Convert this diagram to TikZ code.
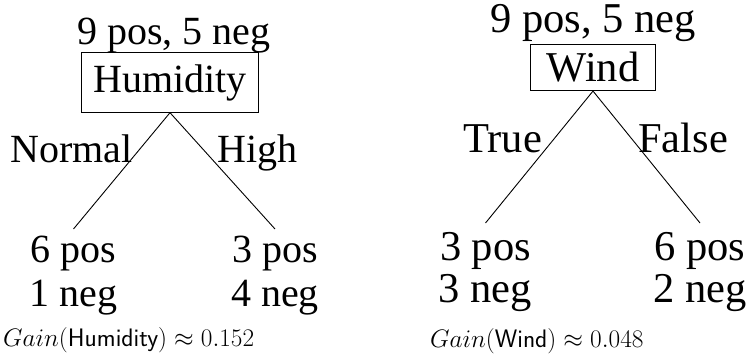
\RequirePackage{fix-cm}
\documentclass[tikz,border=0pt]{standalone}
\usepackage{fontspec}
\newfontfamily\tms{Liberation Serif}
\begin{document}
\begin{tikzpicture}[x=1pt,y=-1pt,
  big/.style={font=\tms\fontsize{40}{43.5}\selectfont, inner sep=0pt},
  bigr/.style={font=\tms\fontsize{42.5}{42}\selectfont, inner sep=0pt},
  attr/.style={draw, line width=1pt},
  leaf/.style={align=center, anchor=north, inner xsep=0pt},
  edge/.style={line width=0.9pt},
  gain/.style={font=\fontsize{25.3}{29}\selectfont, inner sep=0pt, anchor=base west}]
\useasboundingbox (0,0) rectangle (750,355);
% left tree
\node[big, anchor=base west] (tl) at (77,45) {9 pos, 5 neg};
\node[big, attr, inner xsep=11.5pt, inner ysep=11.5pt] (hum) at (170,82.5) {Humidity};
\node[big, leaf, inner ysep=7pt] (l1) at (73.5,229) {6 pos\\1 neg};
\node[big, leaf, inner ysep=7pt] (l2) at (275,229) {3 pos\\4 neg};
\draw[edge] (hum.south) -- (l1.north);
\draw[edge] (hum.south) -- (l2.north);
\node[big, anchor=base west] (normal) at (10,163) {Normal};
\node[big, anchor=base west] (high) at (217,163) {High};
\node[gain] (g1) at (3,347) {$Gain(\textsf{Humidity})\approx 0.152$};
% right tree
\node[bigr, anchor=base west] (tr) at (490,33) {9 pos, 5 neg};
\node[bigr, attr, inner xsep=15.8pt, inner ysep=8pt] (wind) at (593,67.5) {Wind};
\node[bigr, leaf, inner ysep=9pt] (r1) at (485.5,223) {3 pos\\3 neg};
\node[bigr, leaf, inner ysep=9pt] (r2) at (700,223) {6 pos\\2 neg};
\draw[edge] (wind.south) -- (r1.north);
\draw[edge] (wind.south) -- (r2.north);
\node[bigr, anchor=base west] (true) at (463,153) {True};
\node[bigr, anchor=base west] (false) at (638,153) {False};
\node[gain] (g2) at (430,348) {$Gain(\textsf{Wind})\approx 0.048$};
\end{tikzpicture}
\end{document}
